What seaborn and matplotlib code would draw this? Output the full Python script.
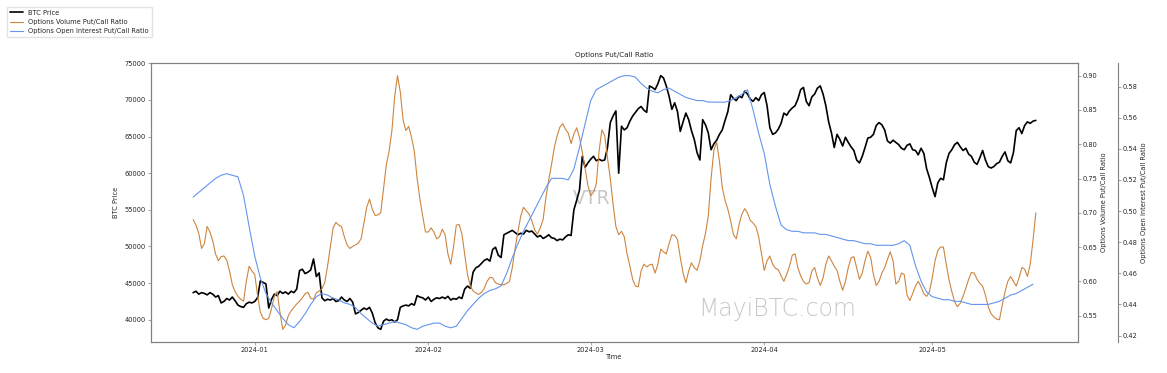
import pandas as pd
import matplotlib
matplotlib.use("Agg")
import matplotlib.pyplot as plt
import matplotlib.dates as mdates
import seaborn as sns

start = "2023-12-21"

# BTC price, every 12 hours from 2023-12-21
btc_price = [
    43700, 43900, 43500, 43700, 43600, 43400, 43700, 43500, 43100, 43300,
    42300, 42500, 42900, 42700, 43100, 42600, 42000, 41800, 41700, 42200,
    42400, 42300, 42500, 43000, 45300, 45100, 44900, 41600, 42800, 43500,
    43300, 43900, 43600, 43800, 43500, 43900, 43700, 44200, 46700, 46900,
    46300, 46500, 46800, 48300, 45900, 46400, 43000, 42600, 42800, 42700,
    42900, 42500, 42600, 43100, 42700, 42500, 42900, 42400, 40800, 41000,
    41300, 41600, 41400, 41700, 40900, 39600, 38900, 38700, 39800, 40100,
    39900, 40000, 39700, 40000, 41700, 41900, 42000, 41900, 42200, 42000,
    43300, 43100, 43000, 42700, 43100, 42500, 42800, 43000, 42900, 43100,
    42900, 43200, 42700, 42900, 42800, 43100, 42900, 44200, 44600, 44300,
    46500, 47100, 47300, 47700, 48100, 48300, 48000, 49600, 49900, 48800,
    48500, 51600, 51800, 52000, 52200, 51900, 51600, 51800, 51700, 52200,
    52000, 52100, 51700, 51300, 51500, 51100, 51300, 51600, 51200, 51100,
    50800, 51000, 50900, 51300, 51600, 51500, 55000, 56300, 57700, 62300,
    60800, 61400, 61900, 62300, 61700, 61900, 61700, 61800, 63500, 66900,
    67800, 68500, 60000, 66400, 65900, 66200, 67100, 67800, 68300, 68800,
    69100, 68600, 68300, 71900, 71700, 71400, 72200, 73300, 73000, 71900,
    70500, 68700, 69600, 68400, 65700, 67000, 68200, 67300, 65800, 64600,
    62800, 61800, 67300, 66600, 65500, 63200, 64000, 64500, 65300, 65900,
    67200, 68400, 70700, 70200, 69900, 70500, 70300, 71200, 70800, 70100,
    69800, 70300, 69900, 70700, 71000, 69200, 66200, 65300, 65500, 66000,
    66800, 68200, 67900, 68500, 68900, 69200, 70100, 71400, 71700, 69800,
    69200, 70400, 70800, 71600, 71900, 70800, 69200, 67000, 65500, 63500,
    65300, 64600, 63700, 64900, 64200, 63600, 63100, 61800, 61400, 62300,
    63500, 64800, 64900, 65300, 66500, 66900, 66600, 65900, 64400, 64100,
    64500, 64200, 63900, 63400, 63200, 63800, 64000, 63200, 63100, 62500,
    63400, 62700, 60600, 59400, 58000, 56800, 58700, 59300, 59100, 61400,
    62700, 63200, 63900, 64200, 63600, 63100, 63400, 62600, 62300, 61500,
    61200, 62100, 63100, 61800, 60900, 60700, 60900, 61300, 61500, 62300,
    62900, 61700, 61400, 62800, 65800, 66200, 65400, 66500, 67000, 66800,
    67100, 67200,
]

# options volume put/call ratio, every 12 hours
vol_pcr = [
    0.690, 0.682, 0.670, 0.648, 0.655, 0.680, 0.672, 0.659, 0.640, 0.630,
    0.636, 0.637, 0.631, 0.615, 0.595, 0.585, 0.578, 0.574, 0.571, 0.600,
    0.622, 0.615, 0.610, 0.580, 0.555, 0.546, 0.544, 0.546, 0.560, 0.578,
    0.585, 0.555, 0.530, 0.536, 0.550, 0.557, 0.562, 0.567, 0.571, 0.576,
    0.582, 0.584, 0.575, 0.574, 0.583, 0.586, 0.589, 0.598, 0.622, 0.650,
    0.678, 0.686, 0.682, 0.680, 0.665, 0.653, 0.648, 0.651, 0.653, 0.656,
    0.662, 0.685, 0.708, 0.720, 0.705, 0.696, 0.697, 0.700, 0.735, 0.770,
    0.790, 0.820, 0.870, 0.900, 0.876, 0.835, 0.820, 0.826, 0.810, 0.790,
    0.750, 0.720, 0.695, 0.672, 0.672, 0.678, 0.672, 0.662, 0.665, 0.676,
    0.668, 0.640, 0.625, 0.650, 0.682, 0.683, 0.669, 0.640, 0.610, 0.593,
    0.586, 0.583, 0.581, 0.584, 0.590, 0.600, 0.606, 0.605, 0.598, 0.596,
    0.595, 0.595, 0.597, 0.600, 0.620, 0.648, 0.672, 0.695, 0.708, 0.703,
    0.698, 0.688, 0.675, 0.669, 0.678, 0.690, 0.722, 0.748, 0.770, 0.795,
    0.812, 0.825, 0.830, 0.822, 0.816, 0.801, 0.815, 0.824, 0.810, 0.788,
    0.765, 0.740, 0.725, 0.730, 0.742, 0.790, 0.821, 0.813, 0.780, 0.750,
    0.712, 0.680, 0.668, 0.673, 0.665, 0.640, 0.622, 0.603, 0.593, 0.592,
    0.615, 0.625, 0.621, 0.624, 0.625, 0.612, 0.625, 0.647, 0.643, 0.640,
    0.655, 0.668, 0.667, 0.661, 0.635, 0.612, 0.598, 0.615, 0.627, 0.620,
    0.616, 0.630, 0.652, 0.670, 0.695, 0.750, 0.791, 0.803, 0.775, 0.737,
    0.718, 0.705, 0.688, 0.668, 0.662, 0.683, 0.698, 0.706, 0.700, 0.689,
    0.685, 0.680, 0.665, 0.640, 0.616, 0.630, 0.637, 0.625, 0.619, 0.617,
    0.608, 0.600, 0.610, 0.622, 0.638, 0.640, 0.620, 0.608, 0.600, 0.596,
    0.598, 0.615, 0.620, 0.605, 0.594, 0.605, 0.625, 0.637, 0.630, 0.622,
    0.616, 0.600, 0.587, 0.600, 0.620, 0.634, 0.636, 0.620, 0.603, 0.612,
    0.630, 0.644, 0.635, 0.610, 0.594, 0.600, 0.612, 0.620, 0.632, 0.643,
    0.630, 0.596, 0.600, 0.612, 0.610, 0.580, 0.572, 0.582, 0.593, 0.600,
    0.592, 0.582, 0.578, 0.585, 0.605, 0.630, 0.645, 0.650, 0.650, 0.625,
    0.602, 0.585, 0.570, 0.563, 0.568, 0.578, 0.590, 0.603, 0.613, 0.612,
    0.603, 0.597, 0.593, 0.580, 0.563, 0.553, 0.548, 0.545, 0.544, 0.565,
    0.585, 0.600, 0.607, 0.600, 0.593, 0.605, 0.620, 0.618, 0.607, 0.625,
    0.660, 0.700,
]

# options open interest put/call ratio, daily
oi_pcr = [
    0.509, 0.512, 0.515, 0.518, 0.521, 0.523, 0.524, 0.523, 0.522, 0.510,
    0.490, 0.471, 0.457, 0.447, 0.441, 0.436, 0.431, 0.427, 0.425, 0.429,
    0.434, 0.440, 0.445, 0.447, 0.446, 0.444, 0.443, 0.441, 0.440, 0.438,
    0.434, 0.431, 0.428, 0.426, 0.427, 0.428, 0.429, 0.428, 0.427, 0.425,
    0.424, 0.426, 0.427, 0.428, 0.428, 0.426, 0.425, 0.426, 0.431, 0.436,
    0.440, 0.444, 0.447, 0.449, 0.450, 0.452, 0.460, 0.470, 0.479, 0.487,
    0.494, 0.501, 0.508, 0.515, 0.521, 0.521, 0.521, 0.520, 0.527, 0.541,
    0.556, 0.571, 0.578, 0.580, 0.582, 0.584, 0.586, 0.587, 0.587, 0.586,
    0.582, 0.579, 0.577, 0.576, 0.578, 0.579, 0.577, 0.575, 0.573, 0.572,
    0.571, 0.571, 0.570, 0.570, 0.570, 0.570, 0.571, 0.573, 0.575, 0.578,
    0.565, 0.550, 0.537, 0.517, 0.503, 0.491, 0.488, 0.487, 0.487, 0.486,
    0.486, 0.486, 0.485, 0.485, 0.484, 0.483, 0.482, 0.481, 0.481, 0.480,
    0.479, 0.479, 0.478, 0.478, 0.478, 0.478, 0.479, 0.481, 0.478, 0.465,
    0.455, 0.448, 0.445, 0.444, 0.443, 0.443, 0.442, 0.442, 0.441, 0.440,
    0.440, 0.440, 0.440, 0.441, 0.442, 0.444, 0.446, 0.447, 0.449, 0.451,
    0.453,
]

half_day = pd.date_range(start, periods=len(btc_price), freq="12h")
daily = pd.date_range(start, periods=len(oi_pcr), freq="D")
df = pd.DataFrame({"time": half_day, "btc": btc_price, "vol": vol_pcr})
oi = pd.DataFrame({"time": daily, "oi": oi_pcr})

sns.set_style("ticks")
plt.rcParams["font.family"] = ["DejaVu Sans"]
fs = 4.8
grey = "#808080"

fig = plt.figure(figsize=(11.67, 3.73), dpi=100)
ax = fig.add_axes([0.1294, 0.0831, 0.7943, 0.748])
ax2 = ax.twinx()
ax3 = ax.twinx()
ax3.spines["right"].set_position(("axes", 1.043))

sns.lineplot(data=df, x="time", y="btc", ax=ax, color="black", lw=1.2, label="BTC Price", legend=False)
sns.lineplot(data=df, x="time", y="vol", ax=ax2, color="peru", lw=0.8,
             label="Options Volume Put/Call Ratio", legend=False)
sns.lineplot(data=oi, x="time", y="oi", ax=ax3, color="cornflowerblue", lw=0.8,
             label="Options Open Interest Put/Call Ratio", legend=False)

ax.xaxis.set_major_locator(mdates.MonthLocator())
ax.xaxis.set_major_formatter(mdates.DateFormatter("%Y-%m"))

ax.set_title("Options Put/Call Ratio", fontsize=5.2, pad=4)
ax.set_xlabel("Time", fontsize=fs, labelpad=0.5)
ax.set_ylabel("BTC Price", fontsize=fs, labelpad=4)
ax2.set_ylabel("Options Volume Put/Call Ratio", fontsize=fs, labelpad=2.5)
ax3.set_ylabel("Options Open Interest Put/Call Ratio", fontsize=fs, labelpad=2.5)

for a in (ax, ax2, ax3):
    a.tick_params(labelsize=fs, length=2, width=0.5, color=grey, pad=1.5)
    for s in a.spines.values():
        s.set_color(grey)
        s.set_linewidth(0.8)
for s in ("top", "left", "bottom"):
    ax3.spines[s].set_visible(False)

ax.text(0.676, 0.118, "MayiBTC.com", transform=ax.transAxes, fontsize=17,
        color="#c8c8c8", ha="center", va="center", fontweight="light", zorder=0)
ax.text(0.475, 0.516, "VTR", transform=ax.transAxes, fontsize=13.5,
        color="#c8c8c8", ha="center", va="center", zorder=0)

handles = ax.get_lines() + ax2.get_lines() + ax3.get_lines()
fig.legend(handles=handles, loc="upper left", bbox_to_anchor=(0.006, 0.981),
           borderaxespad=0, fontsize=4.8, frameon=True, fancybox=False,
           edgecolor="#dddddd", handlelength=2.0)

fig.savefig("out.png", dpi=100)
